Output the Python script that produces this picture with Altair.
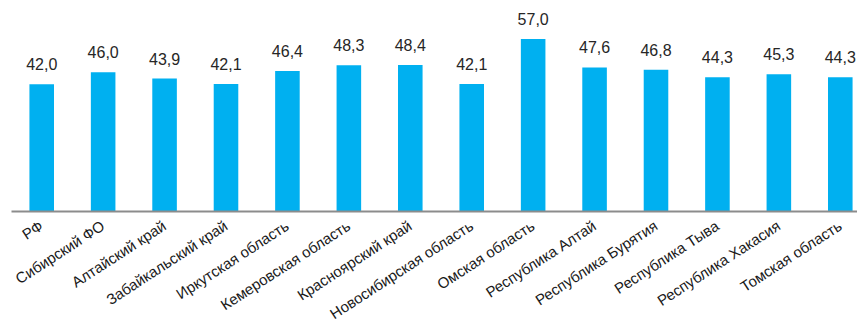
import altair as alt
import pandas as pd

regions = ["РФ", "Сибирский ФО", "Алтайский край", "Забайкальский край",
           "Иркутская область", "Кемеровская область", "Красноярский край",
           "Новосибирская область", "Омская область", "Республика Алтай",
           "Республика Бурятия", "Республика Тыва", "Республика Хакасия",
           "Томская область"]
values = [42.0, 46.0, 43.9, 42.1, 46.4, 48.3, 48.4, 42.1, 57.0, 47.6, 46.8,
          44.3, 45.3, 44.3]

df = pd.DataFrame({"region": regions, "value": values})
df["label"] = df["value"].map(lambda v: f"{v:.1f}".replace(".", ","))

FONT = "Liberation Sans"

x = alt.X("region:N", sort=regions, title=None,
          scale=alt.Scale(range=[0, 860], paddingInner=0.6, paddingOuter=0.3),
          axis=alt.Axis(labelAngle=-33, labelAlign="right", labelBaseline="middle",
                        labelFontSize=15, labelFont=FONT, labelColor="#1a1a1a",
                        labelPadding=13, ticks=False, domainColor="#8c8c8c",
                        domainWidth=2, zindex=1, labelOverlap=False, labelLimit=0))
y = alt.Y("value:Q", scale=alt.Scale(domain=[0, 60], nice=False), axis=None)

bars = alt.Chart(df).mark_bar(color="#00b0f0").encode(x=x, y=y)
texts = alt.Chart(df).mark_text(font=FONT, fontSize=16, color="#262626",
                                baseline="alphabetic", dy=-14).encode(
    x=alt.X("region:N", sort=regions), y="value:Q", text="label:N")

chart = alt.layer(bars, texts).properties(
    width=846, height=181,
    autosize=alt.AutoSizeParams(type="none"),
    padding={"left": 3, "top": 22, "right": 0, "bottom": 113},
).configure_view(stroke=None)

chart.save("out.html", embed_options={"renderer": "svg", "actions": False})
